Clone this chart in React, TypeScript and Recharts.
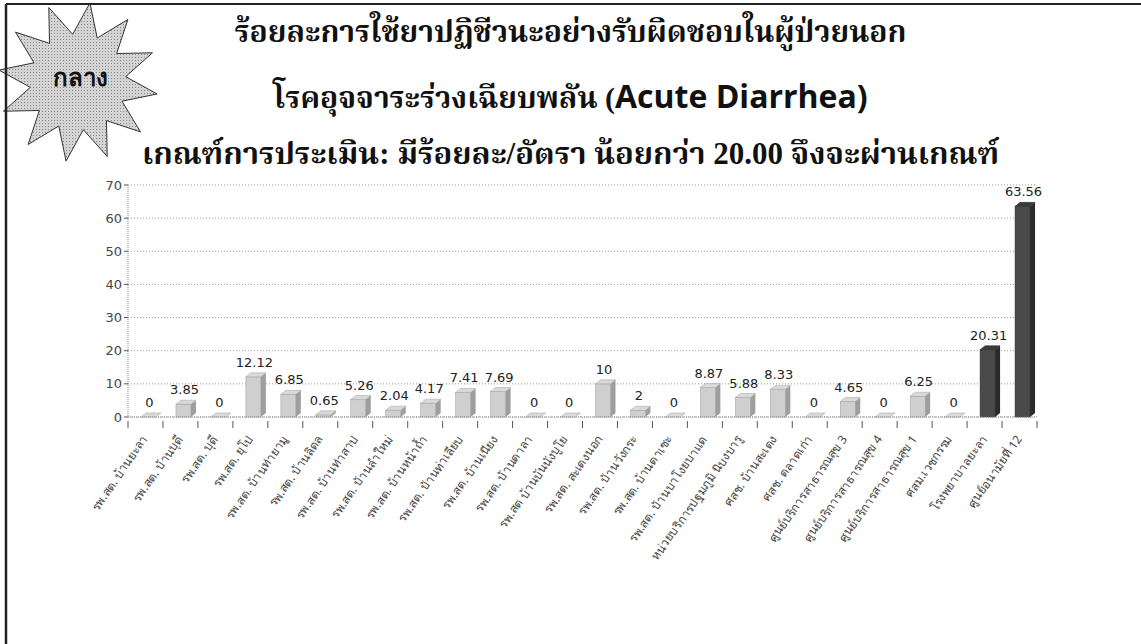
import { Bar, BarChart, CartesianGrid, LabelList, XAxis, YAxis } from "recharts";

const categories = [
  "รพ.สต. บ้านยะลา",
  "รพ.สต. บ้านบุดี",
  "รพ.สต. บุดี",
  "รพ.สต. ยุโป",
  "รพ.สต. บ้านท่ายามู",
  "รพ.สต. บ้านลิดล",
  "รพ.สต. บ้านท่าสาป",
  "รพ.สต. บ้านลำใหม่",
  "รพ.สต. บ้านหน้าถ้ำ",
  "รพ.สต. บ้านท่าเลียบ",
  "รพ.สต. บ้านเนียง",
  "รพ.สต. บ้านตาลา",
  "รพ.สต บ้านบันนังบูโย",
  "รพ.สต. สะเตงนอก",
  "รพ.สต. บ้านวังกระ",
  "รพ.สต. บ้านตาเซะ",
  "รพ.สต. บ้านบาโงยบาแด",
  "หน่วยบริการปฐมภูมิ นิบงบารู",
  "ศสช. บ้านสะเตง",
  "ศสช. ตลาดเก่า",
  "ศูนย์บริการสาธารณสุข 3",
  "ศูนย์บริการสาธารณสุข 4",
  "ศูนย์บริการสาธารณสุข 1",
  "ศสม.เวชกรรม",
  "โรงพยาบาลยะลา",
  "ศูนย์อนามัยที่ 12",
];

const values = [
  0, 3.85, 0, 12.12, 6.85, 0.65, 5.26, 2.04, 4.17, 7.41, 7.69, 0, 0, 10, 2, 0,
  8.87, 5.88, 8.33, 0, 4.65, 0, 6.25, 0, 20.31, 63.56,
];

// last two units are drawn dark
const darkUnits = ["โรงพยาบาลยะลา", "ศูนย์อนามัยที่ 12"];

const yTicks = [0, 10, 20, 30, 40, 50, 60, 70];

const data = categories.map((name, i) => ({
  name,
  value: values[i],
  dark: darkUnits.includes(name),
}));

const PLOT_LEFT = 128;
const PLOT_RIGHT = 1037;
const BAND = (PLOT_RIGHT - PLOT_LEFT) / categories.length;
const DX = 5;
const DY = 4;

const thaiSerif = "'Liberation Serif', 'Noto Serif Thai', 'Noto Sans Thai', serif";

function Bar3D(props: any) {
  const { x, y, width, height, payload } = props;
  const dark = payload && payload.dark;
  const face = dark ? "#4a4a4a" : "#cfcfcf";
  const side = dark ? "#2a2a2a" : "#9e9e9e";
  const top = dark ? "#3a3a3a" : "#dadada";
  const bx = Number(x) + 4;
  const w = Math.max(Number(width) - 2, 4);
  const by = Number(y);
  const h = Math.max(Number(height) || 0, 0);
  return (
    <g>
      <rect x={bx} y={by} width={w} height={h} fill={face} stroke={side} strokeWidth={0.5} />
      <polygon
        points={`${bx + w},${by} ${bx + w + DX},${by - DY} ${bx + w + DX},${by + h - DY} ${bx + w},${by + h}`}
        fill={side}
      />
      <polygon
        points={`${bx},${by} ${bx + DX},${by - DY} ${bx + w + DX},${by - DY} ${bx + w},${by}`}
        fill={top}
        stroke={side}
        strokeWidth={0.5}
      />
    </g>
  );
}

function ValueLabel(props: any) {
  const { x, y, width, value } = props;
  return (
    <text
      x={Number(x) + 4 + Number(width) / 2}
      y={Number(y) - DY - 6}
      textAnchor="middle"
      fontSize={13}
      fontFamily="'DejaVu Sans', sans-serif"
      fill="#222"
    >
      {value}
    </text>
  );
}

function CategoryTick(props: any) {
  const { x, y, payload, index } = props;
  return (
    <g>
      <line x1={x + BAND / 2} y1={y - 4} x2={x + BAND / 2} y2={y + 3} stroke="#555" />
      {index === 0 && (
        <line x1={x - BAND / 2} y1={y - 4} x2={x - BAND / 2} y2={y + 3} stroke="#555" />
      )}
      <text
        x={x + 3}
        y={y + 14}
        transform={`rotate(-55 ${x + 3} ${y + 14})`}
        textAnchor="end"
        fontSize={12}
        fill="#444"
        fontFamily="'Noto Sans', sans-serif"
      >
        {payload.value}
      </text>
    </g>
  );
}

function starPoints(cx: number, cy: number, n: number, r1: number, r2: number) {
  const pts: string[] = [];
  for (let i = 0; i < n * 2; i++) {
    const a = (Math.PI * i) / n - Math.PI / 2 + 0.15;
    const r = i % 2 === 0 ? r1 : r2;
    pts.push(`${cx + r * Math.cos(a)},${cy + r * Math.sin(a)}`);
  }
  return pts.join(" ");
}

export default function App() {
  return (
    <div
      style={{
        position: "absolute",
        left: 0,
        top: 0,
        width: 1141,
        height: 644,
        background: "#fff",
        overflow: "hidden",
      }}
    >
      <svg width={1141} height={644} style={{ position: "absolute", left: 0, top: 0 }}>
        <defs>
          <pattern id="starDots" width="3" height="3" patternUnits="userSpaceOnUse">
            <rect width="3" height="3" fill="#d4d4d4" />
            <rect width="1" height="1" fill="#888" />
          </pattern>
        </defs>
        <polygon
          points={starPoints(78, 82, 12, 80, 48)}
          fill="url(#starDots)"
          stroke="#333"
          strokeWidth={1}
        />
        <text
          x={80}
          y={86}
          textAnchor="middle"
          fontSize={24}
          fontWeight="bold"
          fontFamily="'Noto Sans', sans-serif"
          fill="#111"
        >
          กลาง
        </text>
        <line x1={6} y1={4} x2={1141} y2={4} stroke="#222" strokeWidth={2} />
        <line x1={6} y1={4} x2={6} y2={644} stroke="#222" strokeWidth={2.5} />
      </svg>

      <div
        style={{
          position: "absolute",
          left: 0,
          width: 1141,
          top: 12,
          textAlign: "center",
          fontFamily: thaiSerif,
          fontWeight: "bold",
          fontSize: 30,
          color: "#111",
          lineHeight: "40px",
        }}
      >
        ร้อยละการใช้ยาปฏิชีวนะอย่างรับผิดชอบในผู้ป่วยนอก
      </div>
      <div
        style={{
          position: "absolute",
          left: 0,
          width: 1141,
          top: 74,
          textAlign: "center",
          fontFamily: thaiSerif,
          fontWeight: "bold",
          fontSize: 30,
          color: "#111",
          lineHeight: "44px",
        }}
      >
        โรคอุจจาระร่วงเฉียบพลัน (
        <span style={{ fontFamily: "'Open Sans', 'DejaVu Sans', sans-serif", fontSize: 32 }}>
          Acute Diarrhea)
        </span>
      </div>
      <div
        style={{
          position: "absolute",
          left: 0,
          width: 1141,
          top: 134,
          textAlign: "center",
          fontFamily: thaiSerif,
          fontWeight: "bold",
          fontSize: 31,
          color: "#111",
          lineHeight: "40px",
        }}
      >
        เกณฑ์การประเมิน: มีร้อยละ/อัตรา น้อยกว่า 20.00 จึงจะผ่านเกณฑ์
      </div>

      <div style={{ position: "absolute", left: 0, top: 0 }}>
        <BarChart
          width={1141}
          height={644}
          data={data}
          margin={{ top: 185, right: 1141 - PLOT_RIGHT, left: PLOT_LEFT - 40, bottom: 77 }}
        >
          <CartesianGrid
            vertical={false}
            stroke="#999"
            strokeDasharray="1 2"
          />
          <XAxis
            dataKey="name"
            interval={0}
            height={150}
            tickLine={false}
            axisLine={{ stroke: "#888", strokeDasharray: "1 1" }}
            tick={<CategoryTick />}
          />
          <YAxis
            width={40}
            domain={[0, 70]}
            ticks={yTicks}
            tick={{ fontSize: 13, fill: "#444", fontFamily: "'DejaVu Sans', sans-serif" }}
            tickSize={4}
            axisLine={{ stroke: "#888", strokeDasharray: "1 1" }}
            tickLine={{ stroke: "#555" }}
          />
          <Bar dataKey="value" barSize={17} shape={<Bar3D />} isAnimationActive={false}>
            <LabelList dataKey="value" content={<ValueLabel />} />
          </Bar>
        </BarChart>
      </div>
    </div>
  );
}
